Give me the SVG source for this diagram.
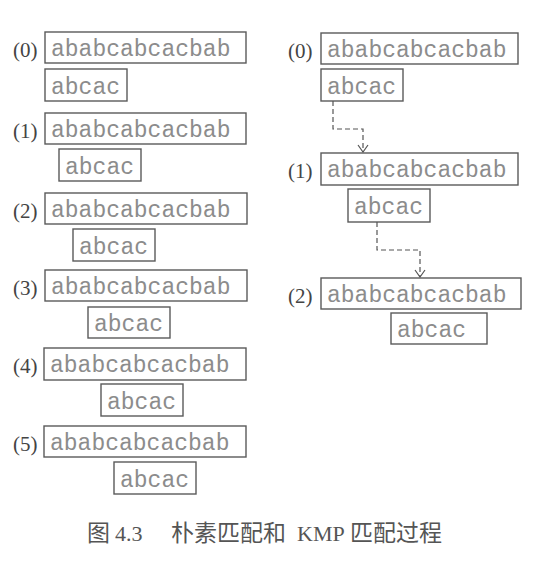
<svg xmlns="http://www.w3.org/2000/svg" width="556" height="566" viewBox="0 0 556 566">
  <defs>
    <marker id="vee" viewBox="0 0 12 12" refX="11" refY="6" markerWidth="12" markerHeight="12" markerUnits="userSpaceOnUse" orient="auto">
      <path d="M4,1 L11,6 L4,11" fill="none" stroke="#555" stroke-width="1.2"/>
    </marker>
    <style>
      .box { fill: #fff; stroke: #5a5a5a; stroke-width: 1.4; }
      .seq { font-family: "Liberation Mono", "DejaVu Sans Mono", monospace; font-size: 23px; fill: #8c8c8c; }
      .step { font-family: "Liberation Serif", serif; font-size: 21px; fill: #444; }
      .link { fill: none; stroke: #555; stroke-width: 1.2; stroke-dasharray: 5 3; marker-end: url(#vee); }
      .cap { font-family: "Liberation Serif", "Noto Sans CJK SC", serif; font-size: 22px; fill: #555; }
      .capzh { font-family: "Noto Sans CJK SC", sans-serif; font-size: 23px; fill: #555; }
    </style>
  </defs>
  <rect width="556" height="566" fill="#fff"/>

  <!-- naive matching: pattern slides one position per step -->
  <g id="naive-0">
    <text class="step" x="13" y="57">(0)</text>
    <rect class="box" x="45" y="32" width="201" height="31"/>
    <text class="seq" x="51" y="56">ababcabcacbab</text>
    <rect class="box" x="45" y="69" width="82" height="32"/>
    <text class="seq" x="51" y="94">abcac</text>
  </g>
  <g id="naive-1">
    <text class="step" x="13" y="138">(1)</text>
    <rect class="box" x="45" y="113" width="201" height="31"/>
    <text class="seq" x="51" y="137">ababcabcacbab</text>
    <rect class="box" x="59" y="149" width="82" height="32"/>
    <text class="seq" x="65" y="174">abcac</text>
  </g>
  <g id="naive-2">
    <text class="step" x="13" y="218">(2)</text>
    <rect class="box" x="45" y="193" width="202" height="31"/>
    <text class="seq" x="51" y="217">ababcabcacbab</text>
    <rect class="box" x="73" y="229" width="82" height="32"/>
    <text class="seq" x="79" y="254">abcac</text>
  </g>
  <g id="naive-3">
    <text class="step" x="13" y="295">(3)</text>
    <rect class="box" x="45" y="270" width="202" height="31"/>
    <text class="seq" x="51" y="294">ababcabcacbab</text>
    <rect class="box" x="88" y="307" width="82" height="31"/>
    <text class="seq" x="94" y="331">abcac</text>
  </g>
  <g id="naive-4">
    <text class="step" x="13" y="373">(4)</text>
    <rect class="box" x="44" y="348" width="202" height="32"/>
    <text class="seq" x="50" y="372">ababcabcacbab</text>
    <rect class="box" x="101" y="384" width="82" height="32"/>
    <text class="seq" x="107" y="409">abcac</text>
  </g>
  <g id="naive-5">
    <text class="step" x="13" y="451">(5)</text>
    <rect class="box" x="44" y="426" width="202" height="31"/>
    <text class="seq" x="50" y="450">ababcabcacbab</text>
    <rect class="box" x="114" y="462" width="82" height="32"/>
    <text class="seq" x="120" y="487">abcac</text>
  </g>

  <!-- KMP matching: pattern jumps ahead -->
  <g id="kmp-0">
    <text class="step" x="288" y="58">(0)</text>
    <rect class="box" x="321" y="33" width="197" height="31"/>
    <text class="seq" x="327" y="57">ababcabcacbab</text>
    <rect class="box" x="321" y="69" width="82" height="32"/>
    <text class="seq" x="327" y="94">abcac</text>
  </g>
  <g id="kmp-1">
    <text class="step" x="288" y="178">(1)</text>
    <rect class="box" x="321" y="153" width="197" height="32"/>
    <text class="seq" x="327" y="177">ababcabcacbab</text>
    <rect class="box" x="348" y="189" width="82" height="33"/>
    <text class="seq" x="354" y="214">abcac</text>
  </g>
  <g id="kmp-2">
    <text class="step" x="288" y="303">(2)</text>
    <rect class="box" x="321" y="278" width="200" height="31"/>
    <text class="seq" x="327" y="302">ababcabcacbab</text>
    <rect class="box" x="391" y="313" width="96" height="31"/>
    <text class="seq" x="397" y="337">abcac</text>
  </g>

  <g id="connectors">
    <path class="link" d="M333,101 V129 H363 V152"/>
    <path class="link" d="M377,222 V250 H420 V277"/>
  </g>

  <g id="caption">
    <text class="capzh" x="87" y="541">图</text>
    <text class="cap" x="115" y="541">4.3</text>
    <text class="capzh" x="171" y="541">朴素匹配和</text>
    <text class="cap" x="297" y="541">KMP</text>
    <text class="capzh" x="350" y="541">匹配过程</text>
  </g>
</svg>
